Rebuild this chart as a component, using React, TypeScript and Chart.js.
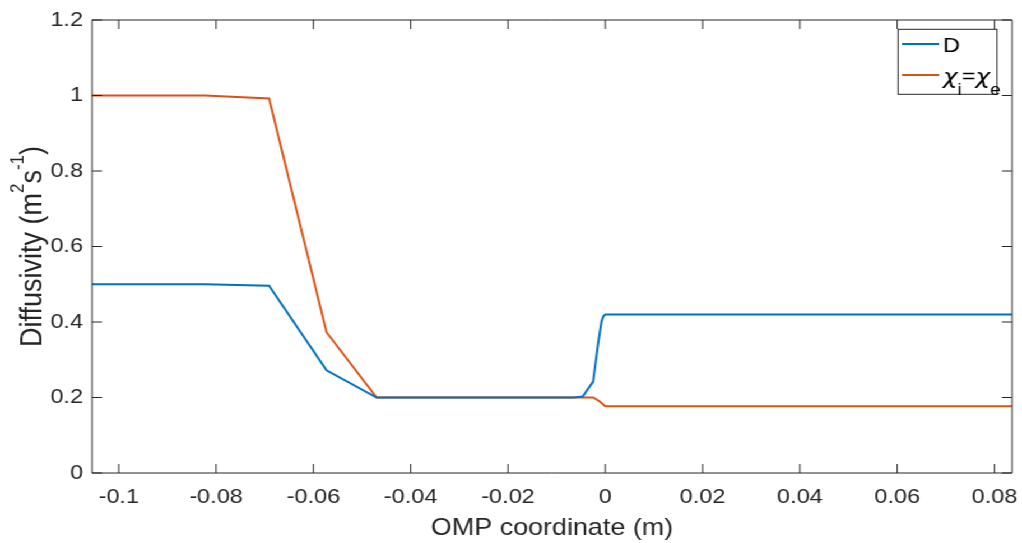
import React, { useEffect, useRef } from "react";
import { Chart, registerables } from "chart.js";

Chart.register(...registerables);

// ---------- data ----------
const xMin = -0.1055;
const xMax = 0.0836;
const yMin = 0;
const yMax = 1.2;
const xTicks = [-0.1, -0.08, -0.06, -0.04, -0.02, 0, 0.02, 0.04, 0.06, 0.08];
const yTicks = [0, 0.2, 0.4, 0.6, 0.8, 1, 1.2];

const dX = [-0.1055, -0.0823, -0.0691, -0.0573, -0.047, -0.0064, -0.0046, -0.0025, -0.0015, -0.0008, -0.0004, 0.0, 0.0836];
const dY = [0.5, 0.5, 0.496, 0.272, 0.2, 0.2, 0.203, 0.242, 0.34, 0.4, 0.415, 0.42, 0.42];

const chiX = [-0.1055, -0.0823, -0.0691, -0.0573, -0.047, -0.0025, -0.0012, 0.0, 0.0836];
const chiY = [1.0, 1.0, 0.992, 0.373, 0.2, 0.2, 0.19, 0.177, 0.177];

const seriesLabels = ["D", "χ_i=χ_e"];
const seriesColors = ["#0072BD", "#D95319"];
const xTitle = "OMP coordinate (m)";
const yTitleParts = ["Diffusivity (m", "^2", "s", "^-1", ")"];

// ---------- layout ----------
const W = 912;
const H = 543;
const SX = 1022 / W;
const FONT = "'Liberation Sans', Arial, Helvetica, sans-serif";
const AXIS_COLOR = "#262626";
const TL = 9;

function fmt(v: number) {
  return String(Number(v.toFixed(4)));
}

type Seg = { t: string; sub?: boolean; greek?: boolean };

function parseLabel(s: string): Seg[] {
  const out: Seg[] = [];
  for (let i = 0; i < s.length; i++) {
    const c = s[i];
    if (c === "_" && i + 1 < s.length) {
      out.push({ t: s[i + 1], sub: true });
      i++;
    } else {
      out.push({ t: c, greek: /[\u0370-\u03ff]/.test(c) });
    }
  }
  return out;
}

const framePlugin = {
  id: "frame",
  afterDraw(chart: any) {
    const { ctx, chartArea, scales } = chart;
    const { left, right, top, bottom } = chartArea;
    const xs = scales.x;
    const ys = scales.y;
    ctx.save();
    // box + inside ticks
    ctx.strokeStyle = AXIS_COLOR;
    ctx.lineWidth = 1;
    ctx.beginPath();
    ctx.rect(left, top, right - left, bottom - top);
    xs.ticks.forEach((t: any) => {
      const px = xs.getPixelForValue(t.value);
      ctx.moveTo(px, bottom);
      ctx.lineTo(px, bottom - TL);
      ctx.moveTo(px, top);
      ctx.lineTo(px, top + TL);
    });
    ys.ticks.forEach((t: any) => {
      const py = ys.getPixelForValue(t.value);
      ctx.moveTo(left, py);
      ctx.lineTo(left + TL, py);
      ctx.moveTo(right, py);
      ctx.lineTo(right - TL, py);
    });
    ctx.stroke();

    // y title with superscripts
    const mainF = `27px ${FONT}`;
    const supF = `17px ${FONT}`;
    ctx.fillStyle = AXIS_COLOR;
    ctx.textBaseline = "alphabetic";
    ctx.textAlign = "left";
    let total = 0;
    yTitleParts.forEach((p) => {
      const sup = p.startsWith("^");
      ctx.font = sup ? supF : mainF;
      total += ctx.measureText(sup ? p.slice(1) : p).width;
    });
    ctx.save();
    ctx.translate(37.2, (top + bottom) / 2);
    ctx.rotate(-Math.PI / 2);
    let cx = -total / 2;
    yTitleParts.forEach((p) => {
      const sup = p.startsWith("^");
      const txt = sup ? p.slice(1) : p;
      ctx.font = sup ? supF : mainF;
      ctx.fillText(txt, cx, sup ? -16 : 0);
      cx += ctx.measureText(txt).width;
    });
    ctx.restore();

    // legend
    const bx = 801.4;
    const by = 29.3;
    const bw = 88.3;
    const bh = 65;
    ctx.fillStyle = "#ffffff";
    ctx.fillRect(bx, by, bw, bh);
    ctx.strokeStyle = AXIS_COLOR;
    ctx.lineWidth = 1;
    ctx.strokeRect(bx, by, bw, bh);
    const rows = [44, 75];
    chart.data.datasets.forEach((ds: any, i: number) => {
      const ry = rows[i];
      ctx.strokeStyle = ds.borderColor;
      ctx.lineWidth = 2;
      ctx.beginPath();
      ctx.moveTo(805, ry);
      ctx.lineTo(838, ry);
      ctx.stroke();
      let tx = 841.5;
      const base = ry + 7.7;
      ctx.fillStyle = "#000000";
      parseLabel(ds.label).forEach((s) => {
        if (s.sub) {
          ctx.font = `17px ${FONT}`;
          ctx.fillText(s.t, tx, base + 12);
        } else if (s.greek) {
          ctx.font = `italic 22px 'DejaVu Sans', ${FONT}`;
          ctx.fillText(s.t, tx, base + 1);
        } else {
          ctx.font = `21px ${FONT}`;
          ctx.fillText(s.t, tx, base);
        }
        tx += ctx.measureText(s.t).width;
      });
    });
    ctx.restore();
  },
};

export default function App() {
  const ref = useRef<HTMLCanvasElement>(null);
  useEffect(() => {
    const canvas = ref.current!;
    const chart = new Chart(canvas, {
      type: "line",
      data: {
        datasets: [
          {
            label: seriesLabels[0],
            data: dX.map((x, i) => ({ x, y: dY[i] })),
            borderColor: seriesColors[0],
            backgroundColor: seriesColors[0],
            borderWidth: 2,
            pointRadius: 0,
            tension: 0,
            fill: false,
          },
          {
            label: seriesLabels[1],
            data: chiX.map((x, i) => ({ x, y: chiY[i] })),
            borderColor: seriesColors[1],
            backgroundColor: seriesColors[1],
            borderWidth: 2,
            pointRadius: 0,
            tension: 0,
            fill: false,
          },
        ],
      },
      options: {
        animation: false,
        responsive: true,
        maintainAspectRatio: false,
        layout: { padding: { left: 0, right: 8.9, top: 20, bottom: 0 } },
        plugins: {
          legend: { display: false },
          tooltip: { enabled: false },
        },
        scales: {
          x: {
            type: "linear",
            min: xMin,
            max: xMax,
            afterBuildTicks: (s: any) => {
              s.ticks = xTicks.map((v) => ({ value: v }));
            },
            afterFit: (s: any) => {
              s.height = 70;
              s.paddingLeft = 0;
              s.paddingRight = 0;
            },
            ticks: {
              autoSkip: false,
              maxRotation: 0,
              padding: 12,
              color: AXIS_COLOR,
              font: { family: FONT, size: 21 },
              callback: (v: any) => fmt(Number(v)),
            },
            grid: { display: false, drawTicks: false },
            border: { display: false },
            title: {
              display: true,
              text: xTitle,
              color: AXIS_COLOR,
              font: { family: FONT, size: 24 },
              padding: 0,
            },
          },
          y: {
            type: "linear",
            min: yMin,
            max: yMax,
            afterBuildTicks: (s: any) => {
              s.ticks = yTicks.map((v) => ({ value: v }));
            },
            afterFit: (s: any) => {
              s.width = 82.1;
              s.paddingTop = 0;
              s.paddingBottom = 0;
            },
            ticks: {
              autoSkip: false,
              padding: 8,
              color: AXIS_COLOR,
              font: { family: FONT, size: 21 },
              callback: (v: any) => fmt(Number(v)),
            },
            grid: { display: false, drawTicks: false },
            border: { display: false },
          },
        },
      },
      plugins: [framePlugin],
    } as any);
    return () => chart.destroy();
  }, []);

  return (
    <div
      style={{
        position: "fixed",
        left: 0,
        top: 0,
        width: W,
        height: H,
        transform: `scaleX(${SX})`,
        transformOrigin: "0 0",
        background: "#ffffff",
      }}
    >
      <canvas ref={ref} />
    </div>
  );
}
